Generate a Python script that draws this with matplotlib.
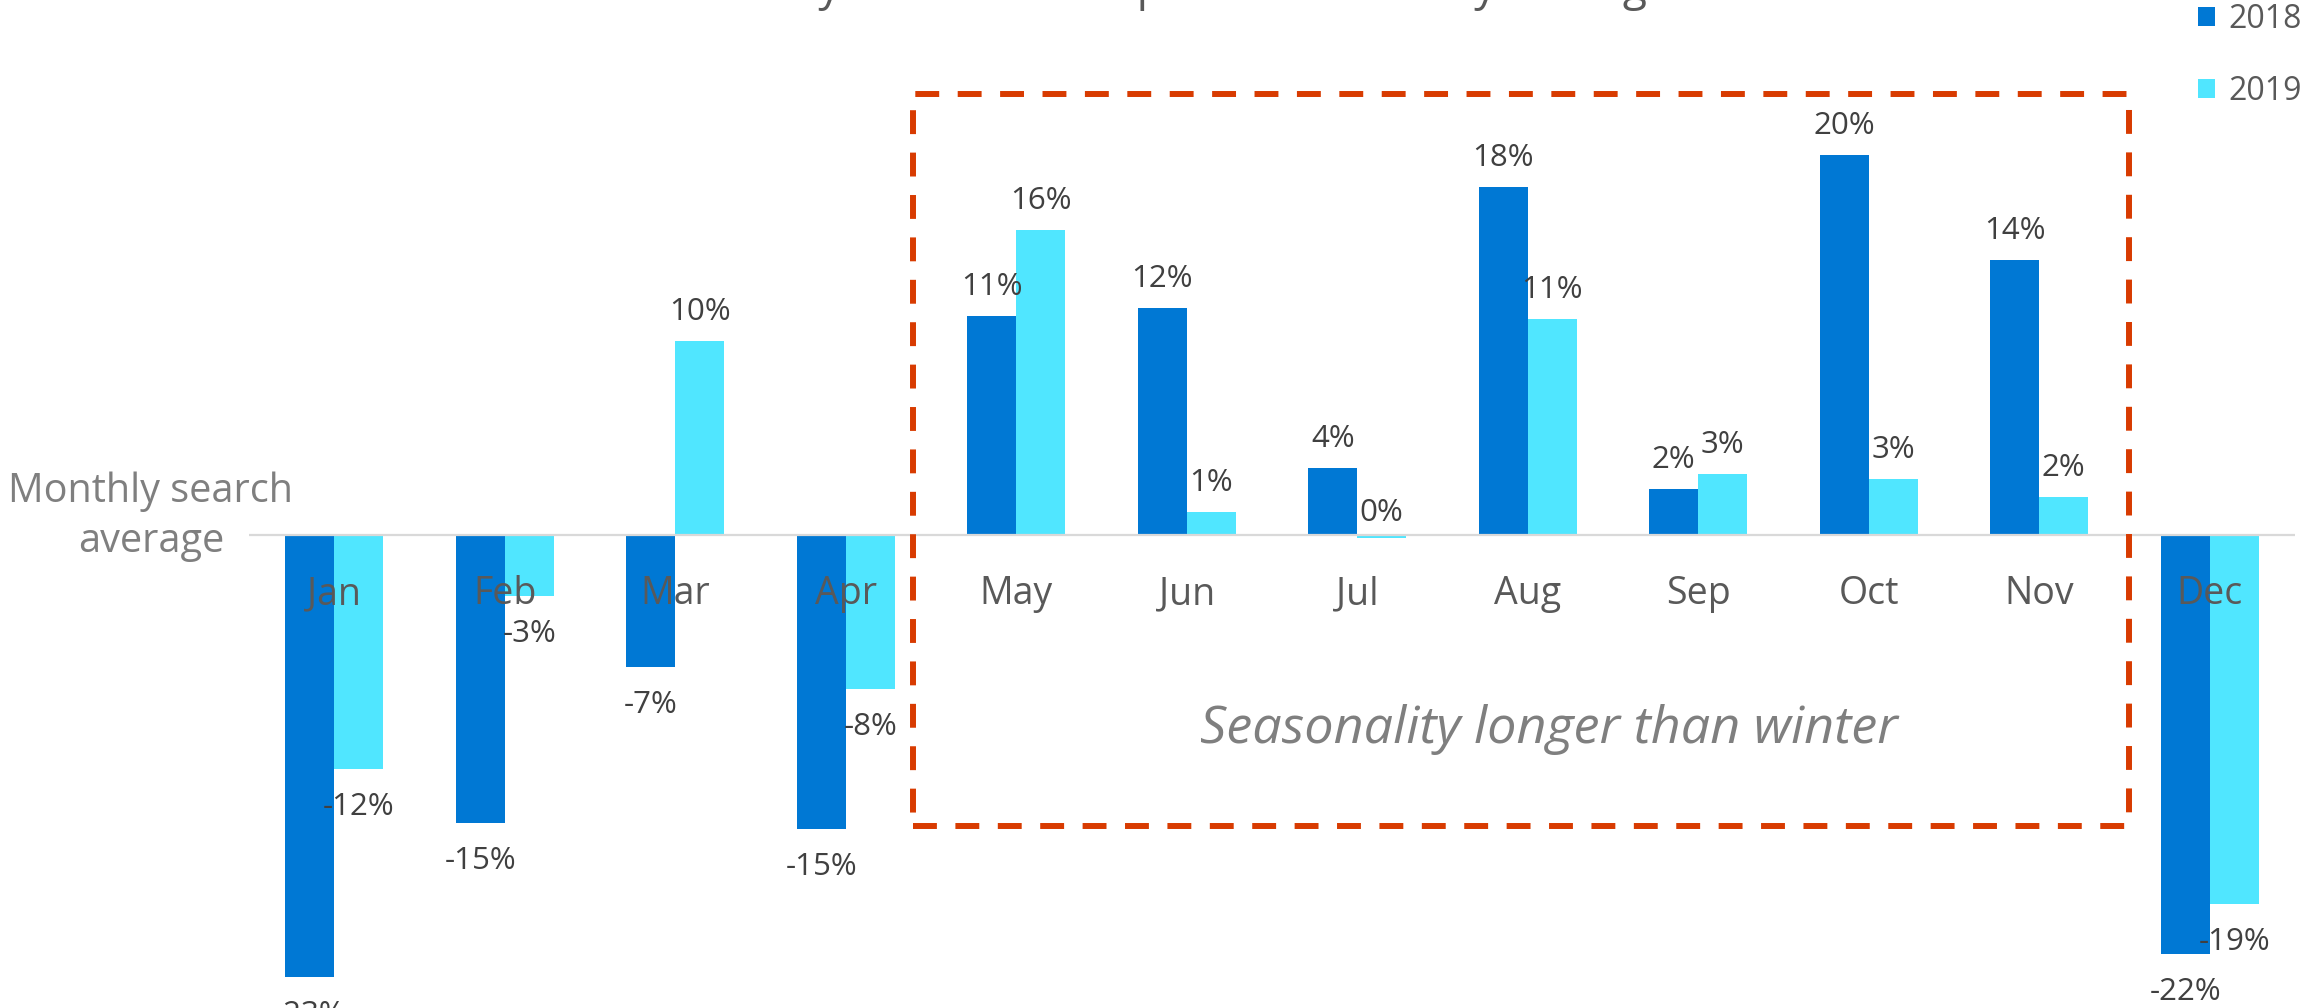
import matplotlib.pyplot as plt
from matplotlib.patches import Rectangle

plt.rcParams['font.family'] = ['Open Sans', 'DejaVu Sans']

# data (percent vs. monthly search average)
months = ["Jan", "Feb", "Mar", "Apr", "May", "Jun", "Jul", "Aug", "Sep", "Oct", "Nov", "Dec"]
series_names = ["2018", "2019"]
vals_2018 = [-23.0, -15.0, -6.9, -15.3, 11.4, 11.8, 3.5, 18.1, 2.4, 19.8, 14.3, -21.8]
vals_2019 = [-12.2, -3.2, 10.1, -8.0, 15.9, 1.2, -0.15, 11.25, 3.2, 2.9, 2.0, -19.2]

C18 = "#0078D4"
C19 = "#50E6FF"
RED = "#D83B01"

W, H = 2305, 1008
fig = plt.figure(figsize=(W / 100, H / 100), dpi=100)
ax = fig.add_axes([249 / W, 0, (2295 - 249) / W, 1])

# zero line sits at y=535px, 19.2 px per percent
px = 19.2
ax.set_ylim(-(H - 535) / px, 535 / px)
ax.set_xlim(-0.5, 11.5)
ax.axis("off")

x = list(range(len(months)))
bw = 0.287
b18 = ax.bar([i - bw / 2 for i in x], vals_2018, width=bw, color=C18, label=series_names[0], zorder=2)
b19 = ax.bar([i + bw / 2 for i in x], vals_2019, width=bw, color=C19, label=series_names[1], zorder=2)

ax.axhline(0, color="#D9D9D9", lw=1.6, zorder=3)

# value labels
for bars, vals, off in [(b18, vals_2018, -bw / 2), (b19, vals_2019, bw / 2)]:
    for i, v in enumerate(vals):
        lab = f"{int(round(v))}%"
        if v >= 0 or int(round(v)) == 0:
            y = max(v, 0) + (21 if v >= 0 else 14) / px
        else:
            y = v - 46 / px
        ax.text(i + off, y, lab, ha="center", va="baseline", fontsize=22.5,
                color="#404040", zorder=4, clip_on=False)

# month labels drawn over the bars
for i, m in enumerate(months):
    ax.text(i, -69 / px, m, ha="center", va="baseline", fontsize=27,
            color="#595959", zorder=5)

# dashed highlight box (pixel coords -> figure fraction)
x0, y0, x1, y1 = 913, 94, 2129, 826
box = Rectangle((x0 / W, 1 - y1 / H), (x1 - x0) / W, (y1 - y0) / H,
                transform=fig.transFigure, fill=False, edgecolor=RED,
                lw=4.3, linestyle=(0, (4.0, 3.1)), zorder=6)
fig.add_artist(box)

fig.text(1549 / W, 1 - 743 / H, "Seasonality longer than winter", ha="center",
         va="baseline", fontsize=37.5, style="italic", color="#7F7F7F")

fig.text(151 / W, 1 - 502 / H, "Monthly search", ha="center", va="baseline",
         fontsize=28.5, color="#7F7F7F")
fig.text(151 / W, 1 - 552 / H, "average", ha="center", va="baseline",
         fontsize=28.5, color="#7F7F7F")

# title sits above the canvas; only descenders show in the reference
fig.text(1171 / W, 1.0, "Monthly searches compared to monthly average",
         ha="center", va="baseline", fontsize=32, color="#595959")

leg = fig.legend(handles=[b18, b19], loc="upper right", bbox_to_anchor=(1.004, 1.010),
                 frameon=False, fontsize=23, handlelength=0.55, handleheight=0.55,
                 handletextpad=0.4, labelspacing=1.22, borderaxespad=0)
for t in leg.get_texts():
    t.set_color("#595959")

fig.savefig("out.png", dpi=100)
